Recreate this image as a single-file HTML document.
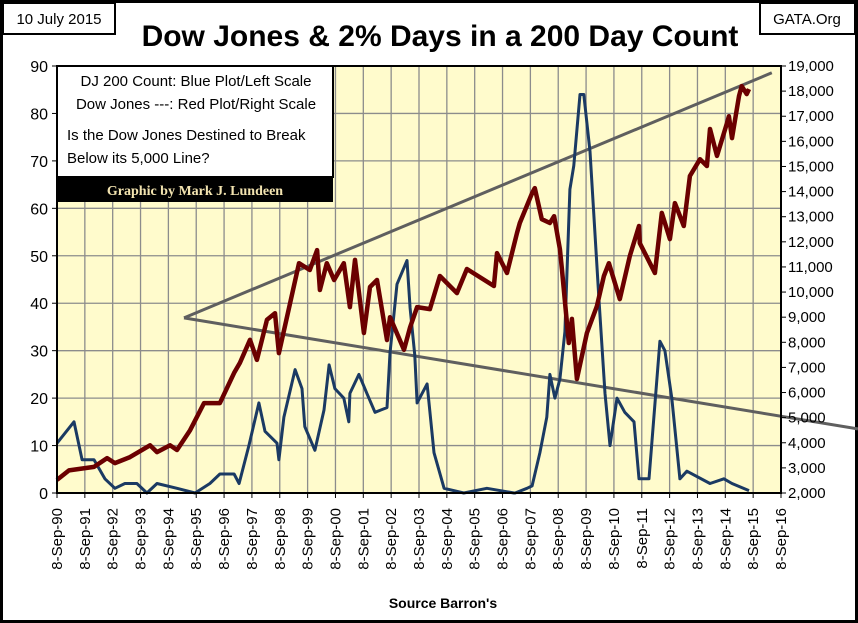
<!DOCTYPE html>
<html><head><meta charset="utf-8"><style>
html,body{margin:0;padding:0;background:#fff}
svg{display:block;font-family:"Liberation Sans",sans-serif}
</style></head><body>
<svg id="chart" width="858" height="623" viewBox="0 0 858 623">
<rect x="1.5" y="1.5" width="855" height="620" fill="#fff" stroke="#000" stroke-width="3"/>
<rect x="3" y="3" width="112" height="31" fill="#fff" stroke="#000" stroke-width="2"/>
<text x="59" y="24" font-size="15" text-anchor="middle">10 July 2015</text>
<rect x="760" y="3" width="95" height="31" fill="#fff" stroke="#000" stroke-width="2"/>
<text x="807" y="24" font-size="15" text-anchor="middle">GATA.Org</text>
<text x="440" y="46" font-size="30" font-weight="bold" text-anchor="middle">Dow Jones &amp; 2% Days in a 200 Day Count</text>
<rect x="57" y="66" width="724" height="427" fill="#fffbcc"/>
<g id="grid"></g>
<g id="trend"></g>
<g id="series"></g>
<rect x="57" y="66" width="724" height="427" fill="none" stroke="#000" stroke-width="2"/>
<g id="axes"></g>
<g>
<rect x="57" y="66" width="276" height="111" fill="#fff" stroke="#000" stroke-width="2"/>
<rect x="57" y="177" width="276" height="25" fill="#000"/>
<text x="196" y="86" font-size="15" text-anchor="middle">DJ 200 Count: Blue Plot/Left Scale</text>
<text x="196" y="109" font-size="15" text-anchor="middle">Dow Jones ---: Red Plot/Right Scale</text>
<text x="67" y="140" font-size="15">Is the Dow Jones Destined to Break</text>
<text x="67" y="163" font-size="15">Below its 5,000 Line?</text>
<text x="195" y="195" font-size="14" font-weight="bold" fill="#f2e3b0" text-anchor="middle" font-family="Liberation Serif, serif">Graphic by Mark J. Lundeen</text>
</g>
<text x="443" y="608" font-size="14" font-weight="bold" text-anchor="middle">Source Barron's</text>
</svg>
<script>
const leftTicks=[0,10,20,30,40,50,60,70,80,90];
const rightTicks=[2000,3000,4000,5000,6000,7000,8000,9000,10000,11000,12000,13000,14000,15000,16000,17000,18000,19000];
const xYears=[1990,1991,1992,1993,1994,1995,1996,1997,1998,1999,2000,2001,2002,2003,2004,2005,2006,2007,2008,2009,2010,2011,2012,2013,2014,2015,2016];
const countDates=[1990.69,1991.30,1991.59,1992.02,1992.41,1992.77,1993.13,1993.56,1993.92,1994.28,1995.0,1995.65,1996.18,1996.54,1997.05,1997.23,1997.58,1997.94,1998.16,1998.59,1998.66,1998.84,1999.24,1999.49,1999.59,1999.95,2000.28,2000.46,2000.67,2000.99,2001.17,2001.21,2001.53,2001.82,2002.11,2002.54,2002.65,2002.90,2003.26,2003.37,2003.54,2003.62,2003.98,2004.23,2004.59,2005.30,2006.13,2007.10,2007.14,2007.57,2007.75,2008.03,2008.28,2008.39,2008.57,2008.75,2008.93,2009.11,2009.25,2009.47,2009.61,2009.83,2010.15,2010.37,2010.55,2010.80,2011.08,2011.41,2011.59,2011.95,2012.34,2012.52,2012.77,2013.06,2013.31,2014.14,2014.64,2014.93,2015.54];
const countValues=[10.5,15,7,7,3,1,2,2,0,2,1,0,2,4,4,2,10,19,13,10.5,7,16,26,22,14,9,17.5,27,22,20,15,21,25,21,17,18,29.5,44,49,39,29,19,23,8.5,1,0,1,0,0,1,1.5,8.5,16,25,20,24,34,64,69,84,84,72,41,21,10,20,17,15,3,3,32,30,20,3,4.6,2,3,2,0.5,1];
const djDates=[1990.69,1991.12,1992.02,1992.49,1992.77,1993.31,1994.03,1994.28,1994.75,1995.0,1995.47,1995.97,1996.54,1997.05,1997.26,1997.62,1997.87,1998.23,1998.52,1998.66,1999.06,1999.38,1999.77,2000.03,2000.13,2000.38,2000.64,2000.99,2001.21,2001.39,2001.71,2001.93,2002.18,2002.54,2002.65,2003.15,2003.37,2003.62,2004.08,2004.44,2005.05,2005.41,2006.38,2006.49,2006.85,2007.21,2007.31,2007.75,2007.85,2008.10,2008.39,2008.54,2008.75,2008.82,2009.07,2009.18,2009.36,2009.72,2010.08,2010.33,2010.51,2010.90,2011.26,2011.59,2011.62,2012.16,2012.41,2012.70,2012.88,2013.20,2013.42,2013.78,2014.03,2014.14,2014.39,2014.75,2014.82,2014.93,2015.18,2015.28,2015.46,2015.54];
const djValues=[2520,2900,3040,3390,3190,3430,3900,3630,3900,3710,4500,5580,5580,6780,7180,8100,7300,8900,9160,7570,9560,11150,10880,11670,10080,11150,10480,11150,9400,11280,8370,10200,10480,8090,9000,7700,8600,9400,9320,10640,9960,10920,10240,11550,10760,12350,12750,13940,14140,12900,12750,13020,11710,10920,7970,8930,6540,8370,9440,10640,11150,9720,11430,12630,11950,10760,13150,12110,13540,12630,14620,15290,15020,16490,15420,16730,17000,16130,17800,18200,17880,18080,17520];
const upperTrendDates=[1995.25,2016.36];
const upperTrendValues=[8970,18730];
const lowerTrendDates=[1995.25,2019.45];
const lowerTrendValues=[8970,4550];

const NS="http://www.w3.org/2000/svg";
const X0=57,X1=781,Y0=493,Y1=66,T0=1990.69,T1=2016.69;
function xScale(t){return X0+(t-T0)/(T1-T0)*(X1-X0);}
function yLeft(v){return Y0-(v/90)*(Y0-Y1);}
function yRight(v){return Y0-((v-2000)/17000)*(Y0-Y1);}
function mk(tag,attrs,parent){const e=document.createElementNS(NS,tag);for(const k in attrs)e.setAttribute(k,attrs[k]);parent.appendChild(e);return e;}
const grid=document.getElementById('grid'),axes=document.getElementById('axes'),series=document.getElementById('series'),trend=document.getElementById('trend');
leftTicks.forEach(v=>{const y=yLeft(v);
 const g=mk('line',{x1:X0,x2:X1,y1:y,y2:y,stroke:'#8c8c8c','stroke-width':1.3},grid);
 
 
 mk('line',{x1:X0-5,x2:X0,y1:y,y2:y,stroke:'#000'},axes);
 const t=mk('text',{x:X0-9,y:y+6,'font-size':16,'text-anchor':'end'},axes);t.textContent=v;
 
 });
rightTicks.forEach(v=>{const y=yRight(v);
 mk('line',{x1:X1,x2:X1+5,y1:y,y2:y,stroke:'#000'},axes);
 const t=mk('text',{x:X1+7,y:y+5,'font-size':15},axes);t.textContent=v.toLocaleString('en-US');
 
 });
xYears.forEach(yr=>{const x=xScale(yr+0.69);
 const g=mk('line',{x1:x,x2:x,y1:Y0,y2:Y1,stroke:'#8c8c8c','stroke-width':1.3},grid);
 
 
 mk('line',{x1:x,x2:x,y1:Y0,y2:Y0+5,stroke:'#000'},axes);
 const t=mk('text',{x:0,y:0,'font-size':15,'text-anchor':'end',transform:`translate(${x+5},508) rotate(-90)`},axes);
 t.textContent='8-Sep-'+String(yr%100).padStart(2,'0');
 
 });
function pl(dates,vals,yf,color,w,name,parent){
 const pts=dates.map((d,i)=>xScale(d).toFixed(1)+','+yf(vals[i]).toFixed(1)).join(' ');
 const p=mk('polyline',{points:pts,fill:'none',stroke:color,'stroke-width':w,'stroke-linejoin':'round'},parent);
 
 }
pl(upperTrendDates,upperTrendValues,yRight,'#5f5f5f',3,'upper-trend-line',trend);
pl(lowerTrendDates,lowerTrendValues,yRight,'#5f5f5f',3,'lower-trend-line',trend);
pl(countDates,countValues,yLeft,'#1b3a63',3,'dj-200-count-line',series);
pl(djDates,djValues,yRight,'#6b0000',4.5,'dow-jones-line',series);
</script>
</body></html>
